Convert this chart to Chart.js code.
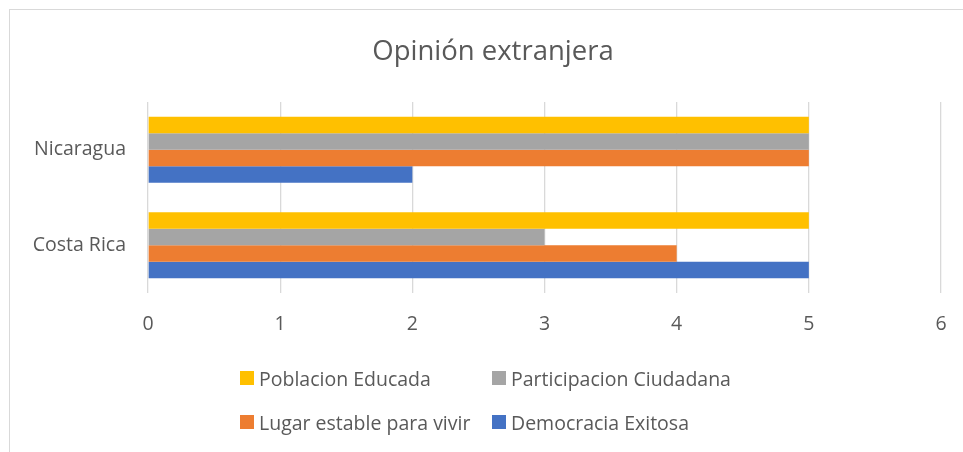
<!DOCTYPE html>
<html>
<head>
<meta charset="utf-8">
<script src="https://cdn.jsdelivr.net/npm/chart.js@4"></script>
<style>
  html, body { margin: 0; padding: 0; background: #fff; overflow: hidden; }
  #wrap { position: relative; width: 963px; height: 452px; }
  #frame { position: absolute; left: 9px; top: 9px; width: 1000px; height: 500px;
           border: 1.5px solid #d9d9d9; box-sizing: border-box; }
  #chart { position: absolute; left: 0; top: 0; }
  #title { position: absolute; left: 293px; width: 400px; top: 32px; text-align: center;
           font-family: "Open Sans", sans-serif; font-size: 27.5px; color: #595959; line-height: 36px; }
  #legend { position: absolute; left: 240px; top: 366px; display: grid;
            grid-template-columns: 252px auto; row-gap: 20px;
            font-family: "Open Sans", sans-serif; font-size: 19.5px; color: #595959; }
  .item { display: flex; align-items: center; height: 24px; white-space: nowrap; }
  .box { width: 14px; height: 14px; margin-right: 5px; flex: none; }
</style>
</head>
<body>
<div id="wrap">
  <div id="frame"></div>
  <canvas id="chart" width="963" height="452"></canvas>
  <div id="title"></div>
  <div id="legend"></div>
</div>
<script>
const chartTitle = 'Opinión extranjera';
// categories, top to bottom
const categories = ['Nicaragua', 'Costa Rica'];
// series in legend order (first one is drawn at the top of each group)
const seriesNames = ['Poblacion Educada', 'Participacion Ciudadana', 'Lugar estable para vivir', 'Democracia Exitosa'];
const seriesColors = ['#FFC000', '#A5A5A5', '#ED7D31', '#4472C4'];
const poblacionEducada = [5, 5];
const participacionCiudadana = [5, 3];
const lugarEstable = [5, 4];
const democraciaExitosa = [2, 5];
const seriesValues = [poblacionEducada, participacionCiudadana, lugarEstable, democraciaExitosa];
const xTicks = [0, 1, 2, 3, 4, 5, 6];

const textColor = '#595959';
const fontFamily = '"Open Sans", sans-serif';

const datasets = seriesNames.map((name, i) => ({
    label: name,
    data: seriesValues[i],
    backgroundColor: seriesColors[i],
    borderWidth: 0,
    categoryPercentage: 0.69,
    barPercentage: 1.0
}));

const ctx = document.getElementById('chart').getContext('2d');
const chart = new Chart(ctx, {
    type: 'bar',
    data: { labels: categories, datasets: datasets },
    options: {
        indexAxis: 'y',
        responsive: false,
        animation: false,
        layout: { padding: { left: 10, right: 22, top: 102, bottom: 109 } },
        plugins: {
            legend: { display: false },
            tooltip: { enabled: false },
            title: { display: false }
        },
        scales: {
            x: {
                min: xTicks[0],
                max: xTicks[xTicks.length - 1],
                afterBuildTicks: axis => { axis.ticks = xTicks.map(v => ({ value: v })); },
                afterFit: axis => {
                    axis.height = 50;
                    axis.paddingLeft = 0;   // don't reserve room for edge labels
                    axis.paddingRight = 0;
                },
                grid: { color: '#d9d9d9', lineWidth: 1.3, drawTicks: false },
                border: { display: false },
                ticks: { color: textColor, padding: 20, font: { family: fontFamily, size: 19.5 } }
            },
            y: {
                afterFit: axis => { axis.width = 138; },
                grid: { display: false, drawTicks: false },
                border: { display: false },
                ticks: { color: textColor, padding: 22, font: { family: fontFamily, size: 19.5 } }
            }
        }
    }
});

document.getElementById('title').textContent = chartTitle;

// legend laid out as a two-column grid like the original
const legend = document.getElementById('legend');
chart.data.datasets.forEach(ds => {
    const item = document.createElement('div');
    item.className = 'item';
    const box = document.createElement('span');
    box.className = 'box';
    box.style.background = ds.backgroundColor;
    const label = document.createElement('span');
    label.textContent = ds.label;
    item.appendChild(box);
    item.appendChild(label);
    legend.appendChild(item);
});
</script>
</body>
</html>
